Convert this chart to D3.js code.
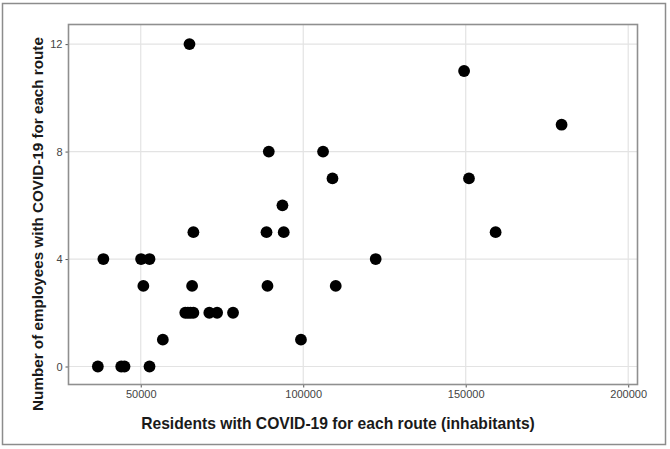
<!DOCTYPE html>
<html>
<head>
<meta charset="utf-8">
<script src="https://cdn.jsdelivr.net/npm/d3@7/dist/d3.min.js"></script>
<style>
  html, body { margin: 0; padding: 0; background: #fff; }
  svg { display: block; }
</style>
</head>
<body>
<svg id="chart" width="670" height="449"></svg>
<script>
// ---- data ----
const residents = [
  36800, 44000, 45000, 52700,
  56800, 99300,
  63700, 64500, 65300, 66200, 71100, 73500, 78400,
  50800, 65800, 89000, 110000,
  38500, 50100, 52700, 122300,
  66200, 88700, 94000, 159200,
  93600,
  109000, 151000,
  89400, 106100,
  179500,
  149500,
  65000
];
const employees = [
  0, 0, 0, 0,
  1, 1,
  2, 2, 2, 2, 2, 2, 2,
  3, 3, 3, 3,
  4, 4, 4, 4,
  5, 5, 5, 5,
  6,
  7, 7,
  8, 8,
  9,
  11,
  12
];
const xTicks = [50000, 100000, 150000, 200000];
const yTicks = [0, 4, 8, 12];
const xTitle = "Residents with COVID-19 for each route (inhabitants)";
const yTitle = "Number of employees with COVID-19 for each route";

// ---- layout ----
const svg = d3.select("#chart");
const panel = { left: 68.5, right: 637.5, top: 24.5, bottom: 384.5 };

const x = d3.scaleLinear().domain([27770, 202860]).range([panel.left, panel.right]);
const y = d3.scaleLinear().domain([-0.67, 12.73]).range([panel.bottom, panel.top]);

// outer frame
svg.append("rect")
  .attr("x", 2.5).attr("y", 3.5).attr("width", 663).attr("height", 441)
  .attr("fill", "#fff").attr("stroke", "#8c8c8c").attr("stroke-width", 1.5);

// gridlines
const g = svg.append("g");
g.selectAll("line.vgrid").data(xTicks).enter().append("line")
  .attr("x1", d => x(d)).attr("x2", d => x(d))
  .attr("y1", panel.top).attr("y2", panel.bottom)
  .attr("stroke", "#e3e3e3").attr("stroke-width", 1.2);
g.selectAll("line.hgrid").data(yTicks).enter().append("line")
  .attr("y1", d => y(d)).attr("y2", d => y(d))
  .attr("x1", panel.left).attr("x2", panel.right)
  .attr("stroke", "#e3e3e3").attr("stroke-width", 1.2);

// axes
const xAxis = d3.axisBottom(x).tickValues(xTicks).tickSize(3).tickPadding(3).tickFormat(d3.format("d"));
const yAxis = d3.axisLeft(y).tickValues(yTicks).tickSize(3).tickPadding(3).tickFormat(d3.format("d"));

const gx = svg.append("g").attr("transform", `translate(0,${panel.bottom})`).call(xAxis);
const gy = svg.append("g").attr("transform", `translate(${panel.left},0)`).call(yAxis);
[gx, gy].forEach(a => {
  a.select(".domain").remove();
  a.selectAll(".tick line").attr("stroke", "#555").attr("stroke-width", 1);
  a.selectAll(".tick text")
    .attr("fill", "#444")
    .style("font-family", "'Liberation Sans', Arial, sans-serif")
    .style("font-size", "11px");
});

// panel border
svg.append("rect")
  .attr("x", panel.left).attr("y", panel.top)
  .attr("width", panel.right - panel.left).attr("height", panel.bottom - panel.top)
  .attr("fill", "none").attr("stroke", "#8f8f8f").attr("stroke-width", 1.6);

// points
svg.append("g").selectAll("circle")
  .data(residents.map((r, i) => ({ r, e: employees[i] })))
  .enter().append("circle")
  .attr("cx", d => x(d.r)).attr("cy", d => y(d.e))
  .attr("r", 5.9).attr("fill", "#000");

// titles, sized to match reference widths
function fitText(sel, target) {
  const len = sel.node().getComputedTextLength();
  const fs = parseFloat(sel.style("font-size"));
  sel.style("font-size", (fs * target / len) + "px");
}
const xt = svg.append("text")
  .attr("x", 338).attr("y", 429)
  .attr("text-anchor", "middle")
  .attr("fill", "#1a1a1a")
  .style("font-family", "'Liberation Sans', Arial, sans-serif")
  .style("font-weight", "bold")
  .style("font-size", "15px")
  .text(xTitle);
fitText(xt, 394);

const yt = svg.append("text")
  .attr("transform", "translate(43,224) rotate(-90)")
  .attr("text-anchor", "middle")
  .attr("fill", "#1a1a1a")
  .style("font-family", "'Liberation Sans', Arial, sans-serif")
  .style("font-weight", "bold")
  .style("font-size", "15px")
  .text(yTitle);
fitText(yt, 374);
</script>
</body>
</html>
